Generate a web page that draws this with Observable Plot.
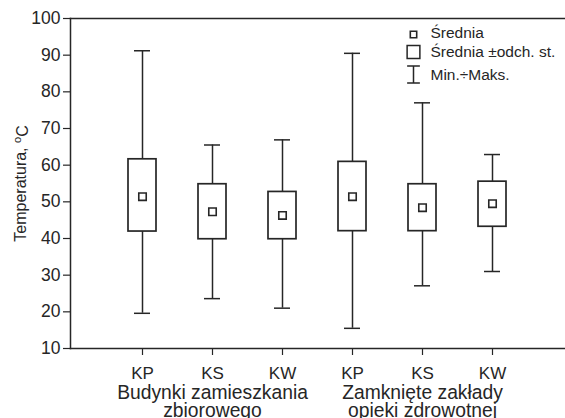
<!DOCTYPE html>
<html><head><meta charset="utf-8">
<script src="https://cdn.jsdelivr.net/npm/d3@7"></script>
<script src="https://cdn.jsdelivr.net/npm/@observablehq/plot@0.6"></script>
<style>body{margin:0;background:#fff;} #chart svg{display:block;}</style>
</head><body><div id="chart"></div>
<script>
const categories = ["B-KP","B-KS","B-KW","Z-KP","Z-KS","Z-KW"];
const tickLabels = ["KP","KS","KW","KP","KS","KW"];
const meanVal = [51.4, 47.3, 46.3, 51.4, 48.4, 49.5];
const sdLow = [41.9, 39.8, 39.8, 42.0, 42.0, 43.2];
const sdHigh = [61.6, 54.8, 52.7, 60.9, 54.8, 55.5];
const minVal = [19.6, 23.6, 21.0, 15.5, 27.1, 31.0];
const maxVal = [91.2, 65.5, 66.9, 90.5, 77.0, 62.9];
const groupAt = ["B-KS","Z-KS"];
const groupLabels = ["Budynki zamieszkania\nzbiorowego", "Zamknięte zakłady\nopieki zdrowotnej"];
const yTicks = [10,20,30,40,50,60,70,80,90,100];
const yLabel = "Temperatura, oC";
const legendLabels = ["Średnia","Średnia ±odch. st.","Min.÷Maks."];

const ink = "#262626";
const data = categories.map((c,i)=>({cat:c, mean:meanVal[i], lo:sdLow[i], hi:sdHigh[i], min:minVal[i], max:maxVal[i]}));
const groups = groupAt.map((g,i)=>({cat:g, label:groupLabels[i]}));
const ticks = categories.map((c,i)=>({cat:c, label:tickLabels[i]}));

const iBeam = {draw(ctx, size){ const r = Math.sqrt(size/Math.PI); const w = r*0.75;
  ctx.moveTo(-w,-r); ctx.lineTo(w,-r); ctx.moveTo(0,-r); ctx.lineTo(0,r); ctx.moveTo(-w,r); ctx.lineTo(w,r);} };

const legendText = (label, dy) => Plot.text([label], {text:d=>d, frameAnchor:"top-right", dx:-135, dy, textAnchor:"start", lineAnchor:"middle", fontSize:15.5, fill:ink});

const plot = Plot.plot({
  width:565, height:418,
  marginLeft:70, marginRight:0, marginTop:18, marginBottom:70,
  style:{fontFamily:"'Liberation Sans', Arial, Helvetica, sans-serif", fontSize:"17px", color:ink, background:"#fff"},
  x:{domain:categories, paddingInner:0.594, paddingOuter:0.797, axis:null},
  y:{domain:[10,100], axis:null},
  marks:[
    Plot.frame({anchor:"left", stroke:ink, strokeWidth:1.5}),
    Plot.frame({anchor:"bottom", stroke:ink, strokeWidth:1.5}),
    Plot.frame({anchor:"top", stroke:ink, strokeWidth:1.5}),
    Plot.axisY({ticks:yTicks, tickSize:7, tickPadding:3, label:null, fontSize:17.5, stroke:ink, strokeWidth:1.2, fill:ink}),
    Plot.axisX({tickSize:7, text:null, label:null, stroke:ink, strokeWidth:1.2}),
    Plot.text(ticks, {x:"cat", text:"label", frameAnchor:"bottom", lineAnchor:"top", dy:18, fontSize:17, fill:ink}),
    Plot.text(groups, {x:"cat", text:"label", frameAnchor:"bottom", lineAnchor:"top", dy:38.5, fontSize:19.3, lineHeight:0.9, fill:ink}),
    Plot.text([yLabel], {text:d=>d, frameAnchor:"left", textAnchor:"middle", lineAnchor:"middle", rotate:-90, dx:-50, fontSize:16, fill:ink}),
    Plot.ruleX(data, {x:"cat", y1:"min", y2:"max", stroke:ink, strokeWidth:1.5}),
    Plot.tickY(data, {x:"cat", y:"min", insetLeft:6, insetRight:6, stroke:ink, strokeWidth:1.5}),
    Plot.tickY(data, {x:"cat", y:"max", insetLeft:6, insetRight:6, stroke:ink, strokeWidth:1.5}),
    Plot.barY(data, {x:"cat", y1:"lo", y2:"hi", fill:"white", stroke:ink, strokeWidth:1.7}),
    Plot.dot(data, {x:"cat", y:"mean", symbol:"square", r:4.2, fill:"white", stroke:ink, strokeWidth:1.6}),
    Plot.dot([0], {frameAnchor:"top-right", dx:-152, dy:16, symbol:"square", r:3.6, fill:"white", stroke:ink, strokeWidth:1.6}),
    Plot.dot([0], {frameAnchor:"top-right", dx:-152, dy:33.5, symbol:"square", r:7.2, fill:"white", stroke:ink, strokeWidth:1.5}),
    Plot.dot([0], {frameAnchor:"top-right", dx:-152, dy:56, symbol:iBeam, r:8.5, fill:"none", stroke:ink, strokeWidth:1.5}),
    legendText(legendLabels[0], 15),
    legendText(legendLabels[1], 34),
    legendText(legendLabels[2], 57)
  ]
});
document.getElementById("chart").appendChild(plot);
// superscript "o" in the y label
for (const t of plot.querySelectorAll("text")) {
  if (t.textContent === yLabel) {
    t.textContent = "";
    const ns = "http://www.w3.org/2000/svg";
    const a = document.createElementNS(ns,"tspan"); a.textContent = "Temperatura, ";
    const b = document.createElementNS(ns,"tspan"); b.textContent = "o"; b.setAttribute("dy","-0.42em"); b.setAttribute("font-size","11");
    const c = document.createElementNS(ns,"tspan"); c.textContent = "C"; c.setAttribute("dy","0.42em");
    t.append(a,b,c);
  }
}
</script>
</body></html>
